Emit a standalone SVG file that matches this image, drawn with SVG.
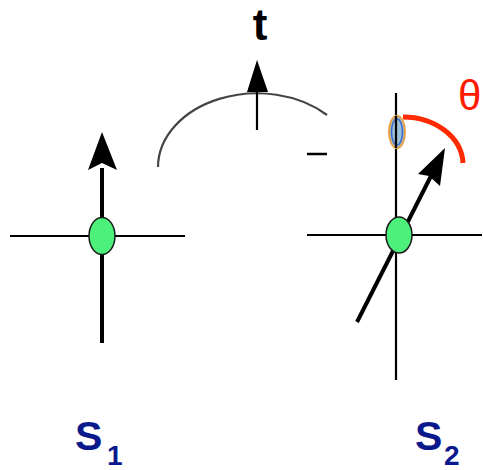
<svg xmlns="http://www.w3.org/2000/svg" width="483" height="470" viewBox="0 0 483 470">
<style>
.ax{stroke:#000;stroke-width:4;fill:none;stroke-linecap:butt}
.thin{stroke:#000;stroke-width:2.2;fill:none}
.node{fill:#4cf07a;stroke:#1a1a1a;stroke-width:1.5}
.lbl{font-family:"Liberation Sans",Arial,sans-serif;font-weight:bold;fill:#0a1a8c}
</style>
<g id="connectors">
<path d="M158,167 A99,74 0 0 1 327,115" fill="none" stroke="#444" stroke-width="2.2"/>
<line x1="257" y1="130" x2="257" y2="92" class="thin" stroke-width="2.5"/>
<polygon points="257,60 247,92 268,92" fill="#000"/>
<line x1="307" y1="154" x2="327" y2="154" stroke="#000" stroke-width="2.5"/>
</g>
<g id="S1">
<line x1="10" y1="236" x2="185" y2="236" class="thin" stroke-width="3"/>
<line x1="102" y1="168" x2="102" y2="343" class="ax"/>
<polygon points="102,132 88,170 102,163 117,170" fill="#000"/>
<ellipse cx="102" cy="236" rx="13" ry="18.5" class="node"/>
<text x="75" y="450" class="lbl" font-size="41">S</text>
<text x="107" y="465" class="lbl" font-size="28">1</text>
</g>
<g id="S2">
<line x1="307" y1="235" x2="482" y2="235" class="thin" stroke-width="3"/>
<line x1="396" y1="93" x2="396" y2="380" class="thin"/>
<line x1="357" y1="322" x2="432" y2="174" class="ax"/>
<polygon points="445,148 440,186 429,176 418,174" fill="#000"/>
<ellipse cx="399" cy="235" rx="13" ry="18" class="node"/>
<ellipse cx="397" cy="132" rx="8" ry="16" fill="#9cc0d8" stroke="#e8a048" stroke-width="2"/>
<ellipse cx="397" cy="132" rx="5.5" ry="13" fill="none" stroke="#3a6acc" stroke-width="1.5"/>
<line x1="396" y1="116" x2="396" y2="148" class="thin"/>
<path d="M403,117 A60,48 0 0 1 463,163" fill="none" stroke="#ff2a00" stroke-width="5"/>
<text x="415" y="450" class="lbl" font-size="41">S</text>
<text x="444" y="465" class="lbl" font-size="28">2</text>
</g>
<g id="labels">
<text x="260" y="40" text-anchor="middle" font-family="'Liberation Sans',Arial,sans-serif" font-weight="bold" font-size="44" fill="#000">t</text>
<text x="458" y="110" font-family="'Liberation Sans',Arial,sans-serif" font-size="42" fill="#ff1a00">θ</text>
</g>
</svg>
